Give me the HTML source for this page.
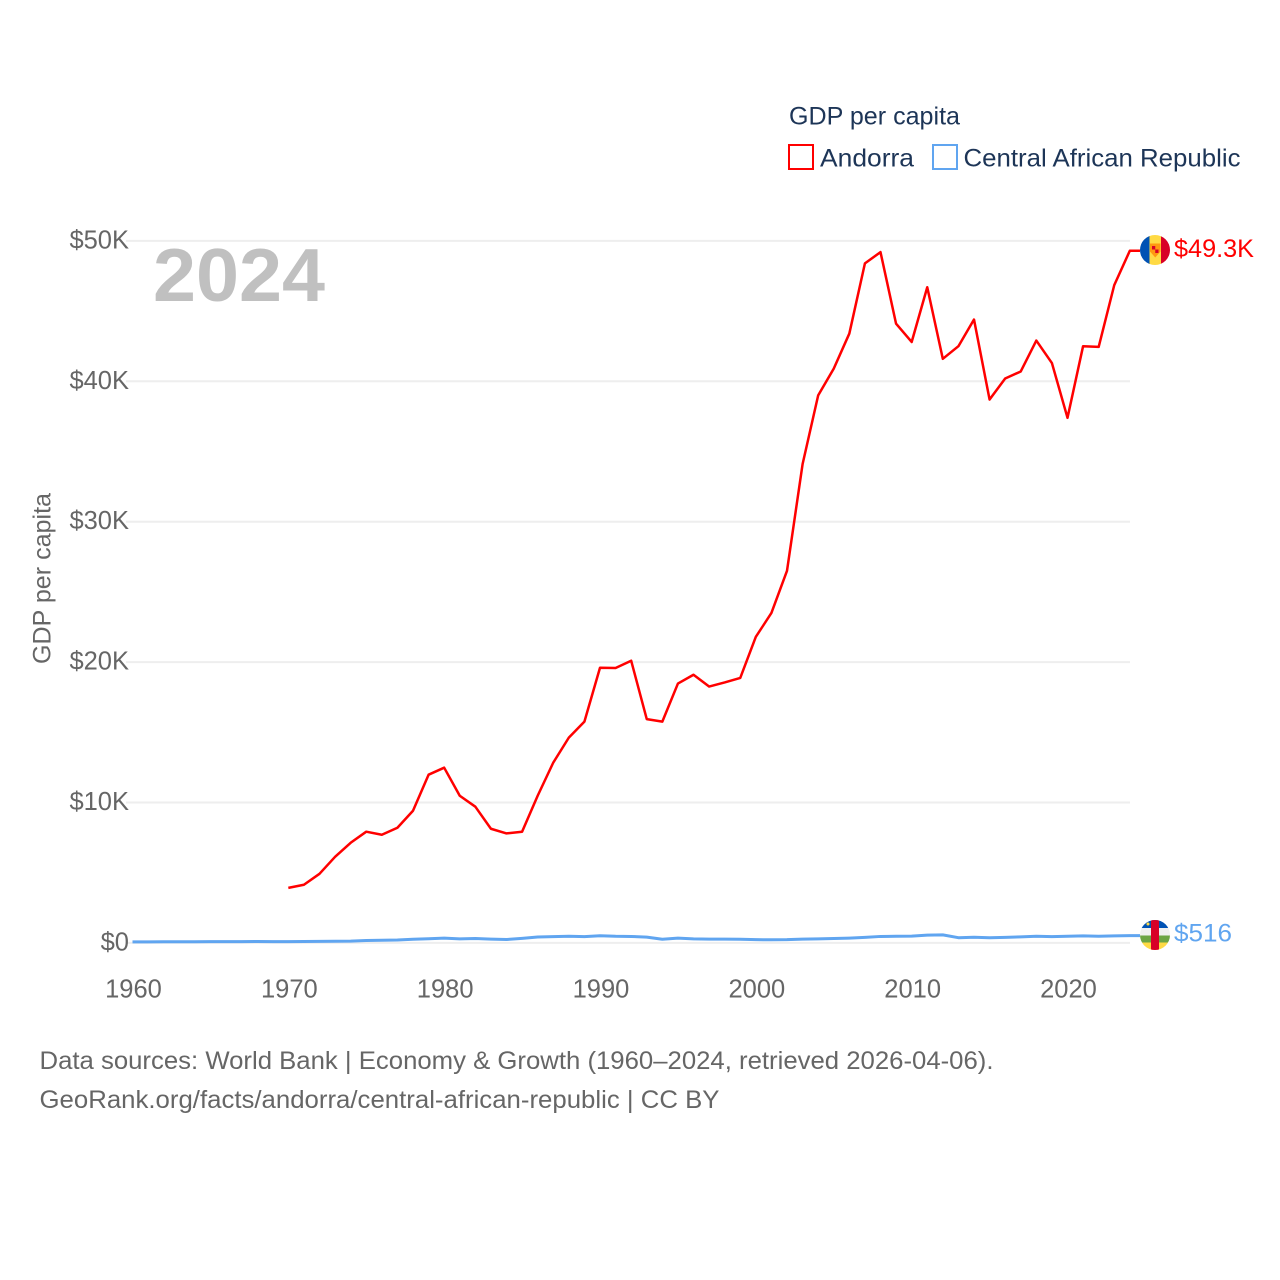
<!DOCTYPE html>
<html lang="en">
<head>
<meta charset="utf-8">
<title>GDP per capita: Andorra vs Central African Republic</title>
<style>
html,body{margin:0;padding:0;background:#fff;}
svg{display:block;}
text{font-family:"Liberation Sans",sans-serif;}
</style>
</head>
<body>
<svg id="chart" xmlns="http://www.w3.org/2000/svg" width="1280" height="1280" viewBox="0 0 1280 1280">
  <defs>
    <clipPath id="clip-ad"><circle cx="1155" cy="250" r="15"/></clipPath>
    <clipPath id="clip-cf"><circle cx="1155" cy="935" r="15"/></clipPath>
  </defs>
  <rect x="0" y="0" width="1280" height="1280" fill="#ffffff"/>
  <g id="grid"></g>
  <g id="y-ticks"></g>
  <g id="x-ticks"></g>
  <text transform="translate(50.500,578.500) rotate(-90)" text-anchor="middle" font-size="25" fill="#666666" textLength="171" lengthAdjust="spacingAndGlyphs">GDP per capita</text>
  <text x="153" y="301" font-size="75" font-weight="700" fill="#c0c0c0" textLength="172" lengthAdjust="spacingAndGlyphs">2024</text>
  <g id="series"></g>

  <g clip-path="url(#clip-ad)">
    <rect x="1140" y="235" width="9.500" height="30" fill="#0052b4"/>
    <rect x="1149.500" y="235" width="11.500" height="30" fill="#ffda44"/>
    <rect x="1161" y="235" width="9" height="30" fill="#d80027"/>
    <path d="M1150 243.500h10.500v8l-5.250 6l-5.250-6z" fill="#ff9811"/>
    <rect x="1152" y="246" width="3.250" height="3.500" fill="#d80027"/>
    <rect x="1155.250" y="249.500" width="3.250" height="3.500" fill="#d80027"/>
  </g>
  <text id="andorra-end-label" x="1174" y="257" font-size="25" fill="#ff0000" textLength="80" lengthAdjust="spacingAndGlyphs">$49.3K</text>

  <g clip-path="url(#clip-cf)">
    <rect x="1140" y="920" width="30" height="8" fill="#0052b4"/>
    <rect x="1140" y="928" width="30" height="7.500" fill="#f0f0f0"/>
    <rect x="1140" y="935.500" width="30" height="7" fill="#6da544"/>
    <rect x="1140" y="942.500" width="30" height="7.500" fill="#ffda44"/>
    <rect x="1151" y="920" width="8" height="30" fill="#d80027"/>
    <circle cx="1148" cy="924" r="1.500" fill="#ffda44"/>
  </g>
  <text id="car-end-label" x="1174" y="941.500" font-size="25" fill="#60a5f0" textLength="58" lengthAdjust="spacingAndGlyphs">$516</text>

  <g>
    <text x="789" y="124.500" font-size="25" fill="#1d3557" textLength="171" lengthAdjust="spacingAndGlyphs">GDP per capita</text>
    <g>
      <rect x="789" y="145" width="24" height="24" fill="#ffffff" stroke="#ff0000" stroke-width="2"/>
      <text x="820" y="166.500" font-size="25" fill="#1d3557" textLength="94" lengthAdjust="spacingAndGlyphs">Andorra</text>
    </g>
    <g>
      <rect x="933" y="145" width="24" height="24" fill="#ffffff" stroke="#60a5f0" stroke-width="2"/>
      <text x="963.500" y="166.500" font-size="25" fill="#1d3557" textLength="277" lengthAdjust="spacingAndGlyphs">Central African Republic</text>
    </g>
  </g>

  <text x="39.500" y="1069" font-size="25" fill="#666666" textLength="954" lengthAdjust="spacingAndGlyphs">Data sources: World Bank | Economy &amp; Growth (1960–2024, retrieved 2026-04-06).</text>
  <text x="39.500" y="1108" font-size="25" fill="#666666" textLength="680" lengthAdjust="spacingAndGlyphs">GeoRank.org/facts/andorra/central-african-republic | CC BY</text>
</svg>
<script>
const yTickValues = [0, 10, 20, 30, 40, 50];
const yTickLabels = ["$0", "$10K", "$20K", "$30K", "$40K", "$50K"];
const xTickYears = [1960, 1970, 1980, 1990, 2000, 2010, 2020];
const xTickLabels = ["1960", "1970", "1980", "1990", "2000", "2010", "2020"];

const andorraStartYear = 1970;
const andorraValues = [3.92, 4.14, 4.92, 6.13, 7.13, 7.92, 7.70, 8.20, 9.41, 11.98,
  12.48, 10.48, 9.70, 8.13, 7.80, 7.92, 10.48, 12.84, 14.62, 15.76,
  19.60, 19.58, 20.10, 15.94, 15.76, 18.47, 19.10, 18.26, 18.55, 18.87,
  21.80, 23.50, 26.50, 34.10, 39.00, 40.90, 43.40, 48.40, 49.20, 44.10,
  42.80, 46.70, 41.60, 42.50, 44.40, 38.70, 40.20, 40.70, 42.90, 41.30,
  37.40, 42.50, 42.45, 46.85, 49.30];

const carStartYear = 1960;
const carValues = [0.07, 0.07, 0.08, 0.08, 0.08, 0.09, 0.09, 0.09, 0.10, 0.09,
  0.09, 0.10, 0.11, 0.12, 0.13, 0.17, 0.19, 0.21, 0.26, 0.30,
  0.34, 0.29, 0.31, 0.27, 0.24, 0.32, 0.42, 0.45, 0.47, 0.45,
  0.51, 0.47, 0.46, 0.41, 0.26, 0.34, 0.29, 0.27, 0.27, 0.26,
  0.23, 0.22, 0.23, 0.27, 0.29, 0.31, 0.34, 0.39, 0.46, 0.47,
  0.48, 0.55, 0.57, 0.37, 0.40, 0.37, 0.39, 0.43, 0.47, 0.45,
  0.47, 0.50, 0.47, 0.50, 0.516];

const SVG_NS = "http://www.w3.org/2000/svg";
const xScale = year => 132.5 + (year - 1960) * (1067.5 - 132.5) / 60;
const yScale = value => 942.9 - value * 14.04;

function make(tag, attrs, parent) {
  const el = document.createElementNS(SVG_NS, tag);
  Object.keys(attrs).forEach(k => el.setAttribute(k, attrs[k]));
  parent.appendChild(el);
  return el;
}

const gridGroup = document.getElementById("grid");
const yTickGroup = document.getElementById("y-ticks");
const xTickGroup = document.getElementById("x-ticks");
const seriesGroup = document.getElementById("series");

yTickValues.forEach((v, i) => {
  const line = make("line", {x1: 126, x2: 1130, y1: yScale(v), y2: yScale(v), stroke: "#eeeeee", "stroke-width": 2}, gridGroup);
  
  
  const label = make("text", {x: 129, y: yScale(v) + 7.5, "text-anchor": "end", "font-size": 25.5, fill: "#666666"}, yTickGroup);
  
  
  label.textContent = yTickLabels[i];
});

xTickYears.forEach((year, i) => {
  const label = make("text", {x: xScale(year) + 1, y: 997.5, "text-anchor": "middle", "font-size": 25.5, fill: "#666666"}, xTickGroup);
  
  
  label.textContent = xTickLabels[i];
});

function linePoints(values, startYear) {
  const pts = values.map((v, i) => xScale(startYear + i).toFixed(2) + "," + yScale(v).toFixed(2));
  const last = values[values.length - 1];
  pts.push("1140," + yScale(last).toFixed(2));
  return pts.join(" ");
}

const carLine = make("polyline", {points: linePoints(carValues, carStartYear), fill: "none", stroke: "#60a5f0", "stroke-width": 3, "stroke-linejoin": "round"}, seriesGroup);



const andorraLine = make("polyline", {points: linePoints(andorraValues, andorraStartYear), fill: "none", stroke: "#ff0000", "stroke-width": 2.5, "stroke-linejoin": "round"}, seriesGroup);


</script>
</body>
</html>
